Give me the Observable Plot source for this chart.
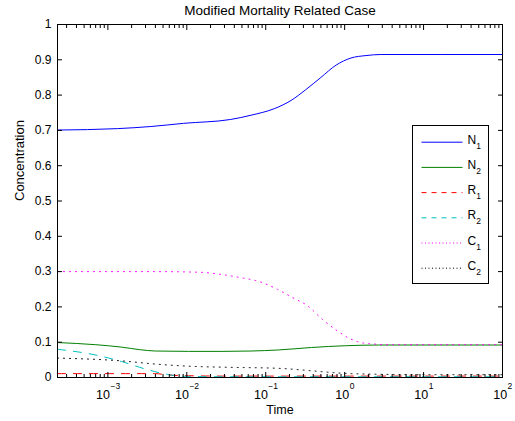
<!DOCTYPE html>
<html><head><meta charset="utf-8">
<script src="https://cdn.jsdelivr.net/npm/d3@7"></script>
<script src="https://cdn.jsdelivr.net/npm/@observablehq/plot@0.6"></script>
<style>
body{margin:0;background:#fff;}
#chart{position:relative;width:515px;height:421px;}
</style></head><body><div id="chart"></div>
<script>
// ---- data ----
const chartTitle = "Modified Mortality Related Case";
const xTitle = "Time";
const yTitle = "Concentration";

const seriesBase = ["N", "N", "R", "R", "C", "C"];
const seriesSub = ["1", "2", "1", "2", "1", "2"];
const seriesColor = ["#0000ff", "#008000", "#ff0000", "#00bfbf", "#ff00ff", "#000000"];
const seriesDash = [null, null, "8,8", "8,8", "1,5", "1,5"];
const legendDash = [null, null, "5,5", "5,5", "1,2.5", "1,2.5"];

const n1Time = [2.3e-4, 1.32e-3, 3.5e-3, 9.1e-3, 0.036, 0.065, 0.13, 0.21, 0.32, 0.5, 0.78, 1.2, 1.86, 2.9, 100];
const n1Value = [0.701, 0.705, 0.711, 0.720, 0.731, 0.743, 0.762, 0.785, 0.815, 0.85, 0.885, 0.905, 0.912, 0.915, 0.915];

const n2Time = [2.3e-4, 6.9e-4, 1.5e-3, 2.5e-3, 4.0e-3, 1.05e-2, 0.028, 0.065, 0.145, 0.38, 1.02, 2.7, 100];
const n2Value = [0.099, 0.093, 0.086, 0.079, 0.075, 0.074, 0.074, 0.075, 0.078, 0.085, 0.090, 0.092, 0.092];

const r1Time = [2.3e-4, 4.0e-3, 5.9e-3, 1.05e-2, 0.032, 100];
const r1Value = [0.011, 0.011, 0.007, 0.005, 0.004, 0.004];

const r2Time = [2.3e-4, 6.9e-4, 1.5e-3, 3.2e-3, 5.9e-3, 1.05e-2, 0.032, 100];
const r2Value = [0.080, 0.064, 0.045, 0.022, 0.008, 0.003, 0.002, 0.002];

const c1Time = [2.3e-4, 4.0e-3, 0.015, 0.025, 0.048, 0.085, 0.14, 0.22, 0.34, 0.52, 0.81, 1.1, 1.6, 2.3, 3.3, 100];
const c1Value = [0.300, 0.300, 0.298, 0.293, 0.283, 0.271, 0.25, 0.226, 0.203, 0.165, 0.132, 0.113, 0.099, 0.095, 0.093, 0.093];

const c2Time = [2.3e-4, 1.5e-3, 4.0e-3, 1.05e-2, 0.032, 0.145, 0.38, 0.79, 1.7, 10, 100];
const c2Value = [0.055, 0.047, 0.038, 0.032, 0.029, 0.026, 0.019, 0.013, 0.010, 0.008, 0.008];

const xDomain = [2.3e-4, 100];
const yDomain = [0, 1];
const yTicks = [0, 0.1, 0.2, 0.3, 0.4, 0.5, 0.6, 0.7, 0.8, 0.9, 1];
const xMajor = [1e-3, 1e-2, 1e-1, 1, 10, 100];
const xExpLabels = ["\u22123", "\u22122", "\u22121", "0", "1", "2"];

// ---- build ----
const FONT = '"Liberation Sans", Arial, Helvetica, sans-serif';
const times = [n1Time, n2Time, r1Time, r2Time, c1Time, c2Time];
const values = [n1Value, n2Value, r1Value, r2Value, c1Value, c2Value];
const series = seriesBase.map((b, i) => ({
  key: b + seriesSub[i], base: b, sub: seriesSub[i], color: seriesColor[i],
  dash: seriesDash[i], ldash: legendDash[i],
  rows: times[i].map((t, j) => ({t, v: values[i][j]}))
}));

const xMinor = [];
for (let e = -4; e < 2; e++) for (let m = 2; m <= 9; m++) {
  const v = m * Math.pow(10, e);
  if (v >= xDomain[0] && v <= xDomain[1]) xMinor.push(v);
}

const W = 515, H = 421, mL = 57, mR = 13, mT = 24, mB = 44;
const ctx = document.createElement("canvas").getContext("2d");
function measure(text, size) { ctx.font = `${size}px ${FONT}`; return ctx.measureText(text).width; }

const baseSize = 12.5, expSize = 8.5;
const xLabelMarks = xMajor.flatMap((t, i) => {
  const e = xExpLabels[i];
  const bw = measure("10", baseSize), ew = measure(e, expSize);
  const left = -(bw + ew) / 2;
  return [
    Plot.text([t], {x: d => d, frameAnchor: "bottom", text: () => "10", textAnchor: "start", lineAnchor: "bottom", dx: left, dy: 21, fontSize: baseSize}),
    Plot.text([t], {x: d => d, frameAnchor: "bottom", text: () => e, textAnchor: "start", lineAnchor: "bottom", dx: left + bw + 0.5, dy: 11.5, fontSize: expSize})
  ];
});

const noText = () => "";
const plot = Plot.plot({
  width: W, height: H,
  marginLeft: mL, marginRight: mR, marginTop: mT, marginBottom: mB,
  style: {fontFamily: FONT, fontSize: "12px", color: "black", background: "white"},
  x: {type: "log", domain: xDomain, label: null},
  y: {domain: yDomain, label: null},
  marks: [
    ...series.map(s => Plot.line(s.rows, {x: "t", y: "v", stroke: s.color, strokeWidth: 1, strokeDasharray: s.dash, curve: "monotone-x"})),
    Plot.axisY({ticks: yTicks, anchor: "left", tickSize: 0, tickPadding: 6, fontSize: 12, tickFormat: d => String(+d.toFixed(1)), label: null}),
    Plot.axisY({ticks: yTicks, anchor: "left", tickSize: -5, tickFormat: noText, label: null}),
    Plot.axisY({ticks: yTicks, anchor: "right", tickSize: -5, tickFormat: noText, label: null}),
    Plot.axisX({ticks: xMajor, anchor: "bottom", tickSize: -5, tickFormat: noText, label: null}),
    Plot.axisX({ticks: xMajor, anchor: "top", tickSize: -5, tickFormat: noText, label: null}),
    Plot.axisX({ticks: xMinor, anchor: "bottom", tickSize: -3, tickFormat: noText, label: null}),
    Plot.axisX({ticks: xMinor, anchor: "top", tickSize: -3, tickFormat: noText, label: null}),
    ...xLabelMarks,
    Plot.frame({stroke: "black"}),
    Plot.text([chartTitle], {frameAnchor: "top", lineAnchor: "bottom", dy: -10, fontSize: 13.5}),
    Plot.text([xTitle], {frameAnchor: "bottom", lineAnchor: "bottom", dy: 36, fontSize: 12.5}),
    Plot.text([yTitle], {frameAnchor: "left", rotate: -90, dx: -38, fontSize: 13})
  ]
});

// legend box (inside plot, upper right area)
const svg = d3.select(plot);
const lgW = 76, lgH = 158;
const lg = svg.append("g").attr("transform", `translate(${W - mR - 14 - lgW + 0.5},${mT + 101 + 0.5})`)
  .attr("font-family", FONT).attr("text-anchor", "start");
lg.append("rect").attr("width", lgW).attr("height", lgH).attr("fill", "white").attr("stroke", "black");
series.forEach((s, i) => {
  const y = 16.7 + i * 25.2;
  lg.append("line").attr("x1", 9).attr("x2", 50).attr("y1", y).attr("y2", y)
    .attr("stroke", s.color).attr("stroke-dasharray", s.ldash);
  const t = lg.append("text").attr("x", 55).attr("y", y + 1.6).attr("font-size", 12)
    .attr("fill", "black").attr("text-anchor", "start");
  t.append("tspan").text(s.base);
  t.append("tspan").attr("font-size", 8.5).attr("dy", 5).text(s.sub);
});

document.getElementById("chart").appendChild(plot);
</script></body></html>
